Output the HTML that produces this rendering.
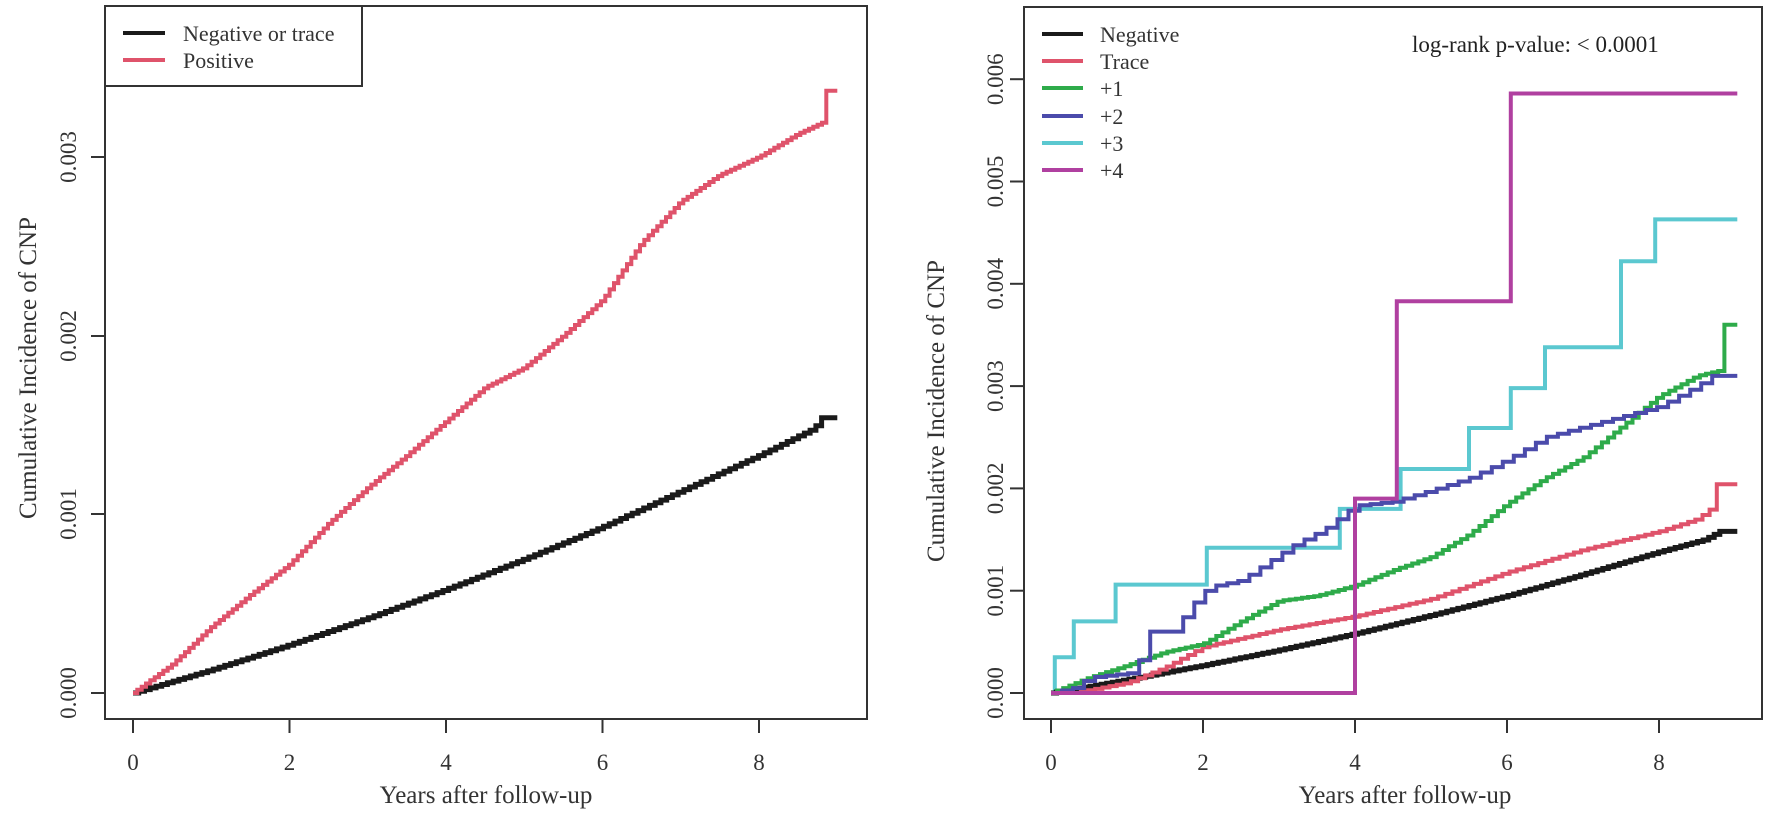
<!DOCTYPE html>
<html><head><meta charset="utf-8"><style>
html,body{margin:0;padding:0;background:#fff;}
svg{display:block;font-family:"Liberation Serif",serif;}
</style></head><body>
<svg id="s" width="1769" height="816" viewBox="0 0 1769 816" xmlns="http://www.w3.org/2000/svg">
<rect width="1769" height="816" fill="#fff"/>
<!-- Left panel -->
<rect x="105" y="6" width="762" height="713" fill="none" stroke="#333" stroke-width="2"/>
<g stroke="#333" stroke-width="2">
<line x1="91" y1="693" x2="105" y2="693"/><line x1="91" y1="514" x2="105" y2="514"/><line x1="91" y1="336" x2="105" y2="336"/><line x1="91" y1="157" x2="105" y2="157"/>
<line x1="133" y1="719" x2="133" y2="733"/><line x1="289.5" y1="719" x2="289.5" y2="733"/><line x1="446" y1="719" x2="446" y2="733"/><line x1="602.5" y1="719" x2="602.5" y2="733"/><line x1="759" y1="719" x2="759" y2="733"/>
</g>
<g font-size="23" fill="#333" text-anchor="middle">
<text x="133" y="770">0</text><text x="289.5" y="770">2</text><text x="446" y="770">4</text><text x="602.5" y="770">6</text><text x="759" y="770">8</text>
<text transform="translate(76,693) rotate(-90)">0.000</text>
<text transform="translate(76,514) rotate(-90)">0.001</text>
<text transform="translate(76,336) rotate(-90)">0.002</text>
<text transform="translate(76,157) rotate(-90)">0.003</text>
</g>
<text x="486" y="803" font-size="25" fill="#333" text-anchor="middle">Years after follow-up</text>
<text transform="translate(36,368) rotate(-90)" font-size="25" fill="#333" text-anchor="middle">Cumulative Incidence of CNP</text>
<rect x="105" y="6" width="257" height="80" fill="#fff" stroke="#333" stroke-width="2"/>
<line x1="123" y1="33" x2="165" y2="33" stroke="#1a1a1a" stroke-width="4"/>
<line x1="123" y1="60" x2="165" y2="60" stroke="#df536b" stroke-width="4"/>
<text x="183" y="41" font-size="22" fill="#333">Negative or trace</text>
<text x="183" y="68" font-size="22" fill="#333">Positive</text>
<g id="L" fill="none" stroke-width="4" stroke-linejoin="miter"></g>

<!-- Right panel -->
<rect x="1024" y="7" width="738" height="712" fill="none" stroke="#333" stroke-width="2"/>
<g stroke="#333" stroke-width="2" id="rt"></g>
<g font-size="23" fill="#333" text-anchor="middle" id="rl"></g>
<text x="1405" y="803" font-size="25" fill="#333" text-anchor="middle">Years after follow-up</text>
<text transform="translate(944,411) rotate(-90)" font-size="25" fill="#333" text-anchor="middle">Cumulative Incidence of CNP</text>
<text x="1412" y="52" font-size="23" fill="#222">log-rank p-value: &lt; 0.0001</text>
<g id="leg"></g>
<g id="R" fill="none" stroke-width="4"></g>
</svg>
<script>
var NS="http://www.w3.org/2000/svg";
function el(p,t,a,txt){var e=document.createElementNS(NS,t);for(var k in a)e.setAttribute(k,a[k]);if(txt)e.textContent=txt;p.appendChild(e);return e;}
function interp(pts,x){for(var i=1;i<pts.length;i++){if(x<=pts[i][0]){var a=pts[i-1],b=pts[i];var t=(x-a[0])/((b[0]-a[0])||1);return a[1]+t*(b[1]-a[1]);}}return pts[pts.length-1][1];}
function smoothStep(pts,n,end,X,Y){var d="",prev=null;for(var i=0;i<=n;i++){var x=pts[0][0]+(pts[pts.length-1][0]-pts[0][0])*i/n;var y=interp(pts,x);var px=X(x),py=Y(y);if(prev===null)d="M"+px+","+py;else d+=" H"+px+" V"+py;prev=py;}if(end)d+=" H"+X(end);return d;}
function steps(s,X,Y){var d="M"+X(s[0][0])+","+Y(s[0][1]);for(var i=1;i<s.length;i++){d+=" H"+X(s[i][0])+" V"+Y(s[i][1]);}return d;}
var LX=function(x){return (133+78.25*x).toFixed(1)},LY=function(y){return (693-178.7*y*1000).toFixed(1)};
var L=document.getElementById("L");
var blk=[[0,0],[1,0.00013],[2,0.00027],[3,0.00042],[4,0.00058],[5,0.00075],[6,0.00093],[7,0.00113],[8,0.00133],[8.7,0.00148],[8.8,0.00154]];
var pos=[[0,0],[0.5,0.00016],[1,0.00037],[1.5,0.00055],[2,0.00072],[2.5,0.00095],[3,0.00115],[3.5,0.00133],[4,0.00152],[4.5,0.00171],[5,0.00182],[5.5,0.002],[6,0.0022],[6.5,0.00252],[7,0.00275],[7.5,0.0029],[8,0.003],[8.5,0.00313],[8.85,0.0032],[8.86,0.00337]];
el(L,"path",{d:smoothStep(blk,120,9.0,LX,LY),stroke:"#1a1a1a","stroke-width":5});
el(L,"path",{d:smoothStep(pos,160,9.0,LX,LY),stroke:"#df536b"});
var RX=function(x){return (1051+76*x).toFixed(1)},RY=function(y){return (693-102.3*y*1000).toFixed(1)};
var rt=document.getElementById("rt"),rl=document.getElementById("rl");
for(var i=0;i<=8;i+=2){el(rt,"line",{x1:RX(i),y1:719,x2:RX(i),y2:733});el(rl,"text",{x:RX(i),y:770},""+i);}
for(var j=0;j<=6;j++){var y=RY(j/1000);el(rt,"line",{x1:1010,y1:y,x2:1024,y2:y});el(rl,"text",{transform:"translate(1003,"+y+") rotate(-90)"},"0.00"+j);}
var cols=["#1a1a1a","#df536b","#2eab4a","#4b4bab","#5bc8d0","#b040a0"],names=["Negative","Trace","+1","+2","+3","+4"];
var leg=document.getElementById("leg");
for(var k=0;k<6;k++){var yy=[34,61,88,116,143,170][k];el(leg,"line",{x1:1042,y1:yy,x2:1083,y2:yy,stroke:cols[k],"stroke-width":4});el(leg,"text",{x:1100,y:yy+8,"font-size":22,fill:"#333"},names[k]);}
var R=document.getElementById("R");
var p4=[[0,0],[4,0.0019],[4.55,0.00383],[6.05,0.00586],[9.03,0.00586]];
var p3=[[0.05,0],[0.05,0.00035],[0.3,0.0007],[0.85,0.00106],[2.05,0.00142],[3.8,0.0018],[4.6,0.00219],[5.5,0.00259],[6.05,0.00298],[6.5,0.00338],[7.5,0.00422],[7.95,0.00463],[9.03,0.00463]];
el(R,"path",{d:steps(p3,RX,RY),stroke:cols[4]});
var t=[[0.3,0],[1,0.0001],[1.5,0.00025],[2,0.00045],[3,0.00062],[4,0.00075],[5,0.00092],[6,0.00118],[7,0.0014],[8,0.00158],[8.5,0.0017],[8.75,0.00184],[8.76,0.00204]];
var g1=[[0,0],[0.5,0.00015],[1,0.00027],[1.5,0.0004],[2,0.00048],[2.5,0.0007],[3,0.0009],[3.5,0.00095],[4,0.00105],[4.5,0.0012],[5,0.00133],[5.5,0.00155],[6,0.00185],[6.5,0.0021],[7,0.0023],[7.5,0.0026],[8,0.0029],[8.5,0.0031],[8.85,0.00316],[8.86,0.0036]];
var b2=[[0,0],[0.3,0.00005],[0.5,0.00015],[1.1,0.0002],[1.3,0.0006],[1.6,0.0006],[1.75,0.00075],[1.95,0.00095],[2.1,0.00104],[2.5,0.0011],[2.8,0.00125],[3.2,0.00145],[3.6,0.0016],[4,0.00183],[4.5,0.00187],[5,0.00198],[5.5,0.0021],[6,0.00228],[6.5,0.0025],[7,0.0026],[7.5,0.0027],[8,0.0028],[8.5,0.003],[8.7,0.0031]];
var nb=[[0,0],[1,0.00013],[2,0.00027],[3,0.00042],[4,0.00058],[5,0.00076],[6,0.00095],[7,0.00116],[8,0.00138],[8.6,0.0015],[8.8,0.00158]];
el(R,"path",{d:smoothStep(nb,120,9.03,RX,RY),stroke:cols[0],"stroke-width":5});
el(R,"path",{d:smoothStep(t,90,9.03,RX,RY),stroke:cols[1]});
el(R,"path",{d:smoothStep(g1,110,9.03,RX,RY),stroke:cols[2]});
el(R,"path",{d:smoothStep(b2,60,9.03,RX,RY),stroke:cols[3]});
el(R,"path",{d:steps(p4,RX,RY),stroke:cols[5]});
</script>
</body></html>
